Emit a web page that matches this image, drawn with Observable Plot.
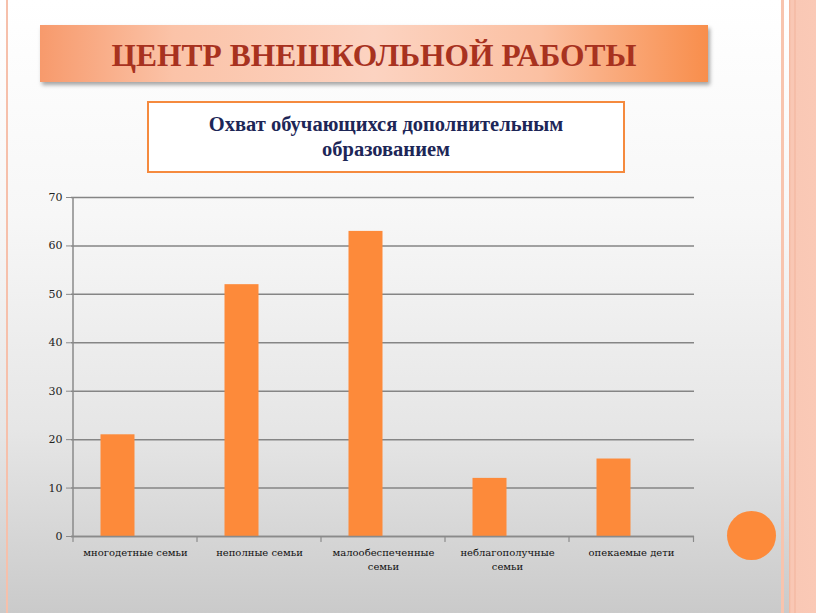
<!DOCTYPE html>
<html>
<head>
<meta charset="utf-8">
<script src="https://cdn.jsdelivr.net/npm/d3@7"></script>
<script src="https://cdn.jsdelivr.net/npm/@observablehq/plot@0.6"></script>
<style>
  html, body { margin: 0; padding: 0; }
  #slide {
    position: relative; width: 816px; height: 613px; overflow: hidden;
    background: linear-gradient(to bottom, #ffffff 0%, #f7f7f7 35%, #e6e6e6 70%, #cacaca 100%);
  }
  .leftline { position: absolute; left: 6px; top: 0; width: 2px; height: 613px; background: #f6c0ab; }
  .rightline { position: absolute; left: 781px; top: 0; width: 3px; height: 613px; background: #f8c4ae; }
  .rightband { position: absolute; left: 789px; top: 0; width: 27px; height: 613px;
    background: linear-gradient(to right, #f4b49a 0px, #f9c7b4 2px, #f9c7b4 5px, #f2b39b 6px, #f9c8b5 7px, #fac9b6 100%); }
  #banner {
    position: absolute; left: 40px; top: 25px; width: 668px; height: 57px;
    background: linear-gradient(to right, #f79a6c 0%, #fbc3a8 20%, #fcd3c1 50%, #fbc0a2 75%, #f88e4c 100%);
    box-shadow: 2px 3px 4px rgba(0,0,0,0.35);
    display: flex; align-items: center; justify-content: center;
  }
  .serif { font-family: "Liberation Serif", "Tinos", "Times New Roman", "Noto Serif", "DejaVu Serif", serif; }
  #banner span {
    font-weight: bold;
    font-size: 31.5px; color: #a8321f; position: relative; left: 0px; top: 2px;
  }
  #subtitle {
    position: absolute; left: 147px; top: 101px; width: 474px; height: 68px;
    background: #ffffff; border: 2px solid #f58a3e;
    display: flex; align-items: center; justify-content: center; text-align: center;
    font-weight: bold;
    font-size: 20.5px; line-height: 25px; color: #1d2657;
  }
  #chart { position: absolute; left: 0; top: 185px; }
  #dot { position: absolute; left: 727px; top: 511px; width: 49px; height: 49px; border-radius: 50%; background: #fd8a3a; }
</style>
</head>
<body>
<div id="slide">
  <div class="leftline"></div>
  <div class="rightline"></div>
  <div class="rightband"></div>
  <div id="banner"><span class="serif">ЦЕНТР ВНЕШКОЛЬНОЙ РАБОТЫ</span></div>
  <div id="subtitle" class="serif">Охват обучающихся дополнительным<br>образованием</div>
  <div id="chart"></div>
  <div id="dot"></div>
</div>
<script>
const categories = ["многодетные семьи", "неполные семьи", "малообеспеченные семьи", "неблагополучные семьи", "опекаемые дети"];
const labels = ["многодетные семьи", "неполные семьи", "малообеспеченные\nсемьи", "неблагополучные\nсемьи", "опекаемые дети"];
const values = [21, 52, 63, 12, 16];
const yTicks = [0, 10, 20, 30, 40, 50, 60, 70];

const data = categories.map((c, i) => ({category: c, value: values[i]}));
const labelOf = new Map(categories.map((c, i) => [c, labels[i]]));

const tickShape = {
  draw(context, l) { context.moveTo(0, 0); context.lineTo(0, l); }
};

const plot = Plot.plot({
  width: 816,
  height: 396,
  marginTop: 12,
  marginLeft: 71,
  marginRight: 122,
  marginBottom: 45,
  style: { background: "transparent", fontFamily: "'DejaVu Serif', 'Liberation Serif', serif" },
  x: { domain: categories, padding: 0, label: null },
  y: { domain: [0, 70], label: null },
  marks: [
    Plot.gridY(yTicks, { stroke: "#858585", strokeOpacity: 1, strokeWidth: 1.5 }),
    Plot.barY(data, { x: "category", y: "value", fill: "#fd8a3a", insetLeft: 27.5, insetRight: 62.5 }),
    Plot.ruleX([0], { x: () => categories[0], dx: -62.5, y1: 0, y2: 70, stroke: "#8a8a8a", strokeWidth: 1.5 }),
    Plot.ruleY([0], { stroke: "#8a8a8a", strokeWidth: 1.5 }),
    Plot.vector(categories, { x: d => d, y: 0, dx: -62.5, length: 5, anchor: "start", shape: tickShape, stroke: "#8a8a8a", strokeWidth: 1.2 }),
    Plot.vector([categories[categories.length - 1]], { x: d => d, y: 0, dx: 62, length: 5, anchor: "start", shape: tickShape, stroke: "#8a8a8a", strokeWidth: 1.2 }),
    Plot.axisY(yTicks, { tickSize: 5, tickPadding: 4, stroke: "#8a8a8a", fontSize: 11, fill: "#222", tickFormat: d => d }),
    Plot.axisX({ tickSize: 0, tickPadding: 10, fontSize: 10, fill: "#111", tickFormat: d => labelOf.get(d), lineHeight: 1.4 })
  ]
});
document.getElementById("chart").appendChild(plot);
</script>
</body>
</html>
